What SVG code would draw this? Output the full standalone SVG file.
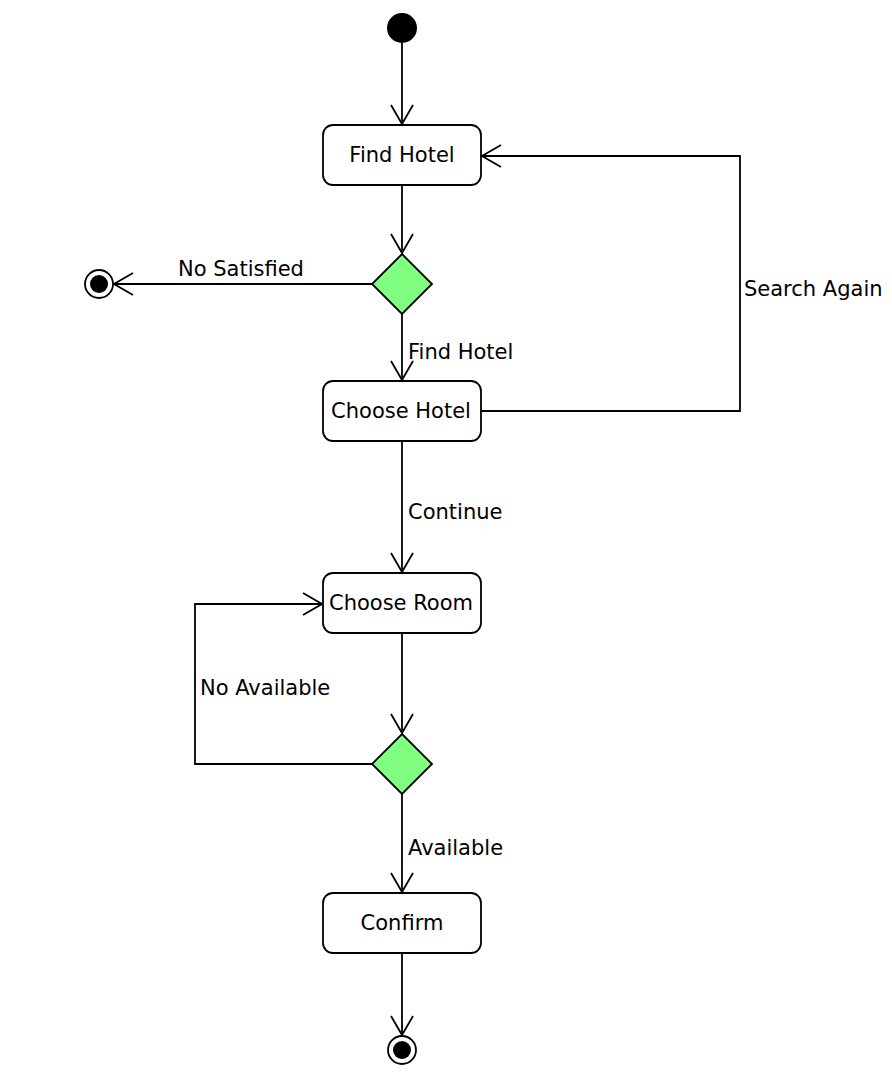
<svg xmlns="http://www.w3.org/2000/svg" width="892" height="1075" viewBox="0 0 892 1075">
<style>
.box{fill:#fff;stroke:#000;stroke-width:1.8}
.dec{fill:#80ff80;stroke:#000;stroke-width:1.8}
.ln{fill:none;stroke:#000;stroke-width:1.8}
text{font-family:"DejaVu Sans",sans-serif;font-size:21px;fill:#000}
.c{text-anchor:middle}
</style>
<defs>
<marker id="arr" viewBox="-21 -13 22 26" refX="0" refY="0" markerWidth="22" markerHeight="26" markerUnits="userSpaceOnUse" orient="auto">
<path d="M-19,-11 L0,0 L-19,11" fill="none" stroke="#000" stroke-width="1.8"/>
</marker>
</defs>
<rect width="892" height="1075" fill="#fff"/>
<g id="connectors">
<path class="ln" d="M402,43 V124" marker-end="url(#arr)"/>
<path class="ln" d="M402,185 V253" marker-end="url(#arr)"/>
<path class="ln" d="M372,284 H114" marker-end="url(#arr)"/>
<path class="ln" d="M402,314 V380" marker-end="url(#arr)"/>
<path class="ln" d="M481,411 H740 V156 H482" marker-end="url(#arr)"/>
<path class="ln" d="M402,441 V572" marker-end="url(#arr)"/>
<path class="ln" d="M402,633 V733" marker-end="url(#arr)"/>
<path class="ln" d="M372,764 H195 V604 H322" marker-end="url(#arr)"/>
<path class="ln" d="M402,794 V892" marker-end="url(#arr)"/>
<path class="ln" d="M402,953 V1035" marker-end="url(#arr)"/>
<text x="178" y="276">No Satisfied</text>
<text x="408" y="359">Find Hotel</text>
<text x="744" y="296">Search Again</text>
<text x="408" y="519">Continue</text>
<text x="200" y="695">No Available</text>
<text x="408" y="855">Available</text>
</g>
<g id="start"><circle cx="402" cy="28" r="15" fill="#000"/></g>
<g id="findHotel"><rect class="box" x="323" y="125" width="158" height="60" rx="10"/><text class="c" x="402" y="162">Find Hotel</text></g>
<g id="decision1"><polygon class="dec" points="402,254 432,284 402,314 372,284"/></g>
<g id="end1"><circle cx="99" cy="284" r="14" fill="#fff" stroke="#000" stroke-width="1.8"/><circle cx="99" cy="284" r="9" fill="#000"/></g>
<g id="chooseHotel"><rect class="box" x="323" y="381" width="158" height="60" rx="10"/><text class="c" x="401" y="418">Choose Hotel</text></g>
<g id="chooseRoom"><rect class="box" x="323" y="573" width="158" height="60" rx="10"/><text class="c" x="401" y="610">Choose Room</text></g>
<g id="decision2"><polygon class="dec" points="402,734 432,764 402,794 372,764"/></g>
<g id="confirm"><rect class="box" x="323" y="893" width="158" height="60" rx="10"/><text class="c" x="402" y="930">Confirm</text></g>
<g id="end2"><circle cx="402" cy="1050" r="14" fill="#fff" stroke="#000" stroke-width="1.8"/><circle cx="402" cy="1050" r="9" fill="#000"/></g>
</svg>
